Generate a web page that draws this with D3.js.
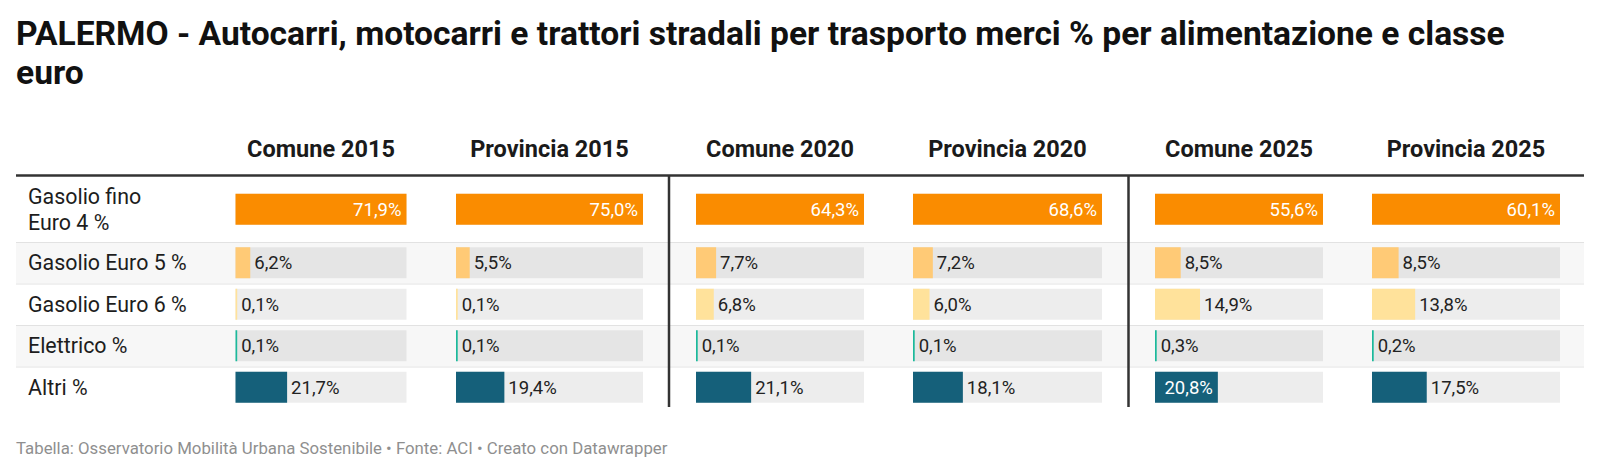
<!DOCTYPE html>
<html>
<head>
<meta charset="utf-8">
<script src="https://cdn.jsdelivr.net/npm/d3@7"></script>
<style>
  body { margin: 0; background: #fff; }
  svg text { font-family: Roboto, "Noto Sans", sans-serif; }
</style>
</head>
<body>
<div id="chart"></div>
<script>
// --- data ---
const titleLines = [
  "PALERMO - Autocarri, motocarri e trattori stradali per trasporto merci % per alimentazione e classe",
  "euro"
];
const footer = "Tabella: Osservatorio Mobilità Urbana Sostenibile • Fonte: ACI • Creato con Datawrapper";
const columns = ["Comune 2015", "Provincia 2015", "Comune 2020", "Provincia 2020", "Comune 2025", "Provincia 2025"];
const rowLabels = ["Gasolio fino\nEuro 4 %", "Gasolio Euro 5 %", "Gasolio Euro 6 %", "Elettrico %", "Altri %"];
const comune2015 = [71.9, 6.2, 0.1, 0.1, 21.7];
const provincia2015 = [75.0, 5.5, 0.1, 0.1, 19.4];
const comune2020 = [64.3, 7.7, 6.8, 0.1, 21.1];
const provincia2020 = [68.6, 7.2, 6.0, 0.1, 18.1];
const comune2025 = [55.6, 8.5, 14.9, 0.3, 20.8];
const provincia2025 = [60.1, 8.5, 13.8, 0.2, 17.5];
const rowColors = ["#fa8c00", "#ffca76", "#ffe29b", "#1bb99b", "#15607a"];

const series = [comune2015, provincia2015, comune2020, provincia2020, comune2025, provincia2025];

// --- layout ---
const width = 1600, height = 473;
const tableLeft = 16, tableRight = 1584;
const headerLineY = 175.5;
const rowHeights = [65.5, 41.5, 41.5, 41.5, 41.5];
const barH = 31;
// bar track extents for each column
const colRanges = [[235.5, 406.5], [456, 643], [696, 864], [913, 1102], [1155, 1323], [1372, 1560]];
const dividers = [669, 1128.5];

const loc = d3.formatLocale({decimal: ",", thousands: ".", grouping: [3], currency: ["", "€"]});
const fmt = v => loc.format(".1f")(v) + "%";

const svg = d3.select("#chart").append("svg")
  .attr("width", width)
  .attr("height", height);

// title
svg.append("text")
  .attr("x", 16)
  .attr("y", 45)
  .attr("font-size", 33.6)
  .attr("font-weight", 700)
  .attr("fill", "#111")
  .selectAll("tspan")
  .data(titleLines)
  .join("tspan")
    .attr("x", 16)
    .attr("dy", (d, i) => i ? 38.5 : 0)
    .text(d => d);

// rows
let acc = headerLineY + 1;
const rows = rowHeights.map(h => { const r = {y: acc, h}; acc += h; return r; });
const tableBottom = acc;

svg.selectAll(".rowbg")
  .data(rows)
  .join("rect")
    .attr("x", tableLeft)
    .attr("y", d => d.y)
    .attr("width", tableRight - tableLeft)
    .attr("height", d => d.h)
    .attr("fill", (d, i) => i % 2 ? "#f7f7f7" : "#fff");

svg.selectAll(".sep")
  .data(rows.slice(1))
  .join("line")
    .attr("x1", tableLeft)
    .attr("x2", tableRight)
    .attr("y1", d => d.y + 0.5)
    .attr("y2", d => d.y + 0.5)
    .attr("stroke", "#e2e2e2")
    .attr("stroke-width", 1);

// header
svg.selectAll(".head")
  .data(columns)
  .join("text")
    .attr("x", (d, i) => (colRanges[i][0] + colRanges[i][1]) / 2)
    .attr("y", 156.5)
    .attr("text-anchor", "middle")
    .attr("font-size", 23.5)
    .attr("font-weight", 700)
    .attr("fill", "#1a1a1a")
    .text(d => d);

svg.append("line")
  .attr("x1", tableLeft).attr("x2", tableRight)
  .attr("y1", headerLineY).attr("y2", headerLineY)
  .attr("stroke", "#333")
  .attr("stroke-width", 2.5);

// row labels
rowLabels.forEach((lab, i) => {
  const lines = lab.split("\n");
  const cy = rows[i].y + rows[i].h / 2;
  svg.append("text")
    .attr("font-size", 21.4)
    .attr("fill", "#1d1d1d")
    .selectAll("tspan")
    .data(lines)
    .join("tspan")
      .attr("x", 28)
      .attr("y", (d, j) => cy + 7.5 + (j - (lines.length - 1) / 2) * 26)
      .text(d => d);
});

// bars per column
series.forEach((vals, ci) => {
  const x = d3.scaleLinear()
    .domain([0, d3.max(vals)])
    .range(colRanges[ci]);
  const g = svg.append("g");

  vals.forEach((v, ri) => {
    const y0 = rows[ri].y + rows[ri].h / 2 - barH / 2;
    const x0 = x(0);
    const bw = Math.max(1.7, x(v) - x0);

    g.append("rect")
      .attr("x", x0).attr("y", y0)
      .attr("width", x.range()[1] - x0).attr("height", barH)
      .attr("fill", "rgba(0,0,0,0.07)");

    g.append("rect")
      .attr("x", x0).attr("y", y0)
      .attr("width", bw).attr("height", barH)
      .attr("fill", rowColors[ri]);

    const t = g.append("text")
      .attr("y", y0 + barH / 2 + 6.6)
      .attr("font-size", 18.5)
      .text(fmt(v));
    const tw = t.node().getComputedTextLength();
    if (bw > tw + 10) {
      t.attr("x", x0 + bw - 5).attr("text-anchor", "end").attr("fill", "#fff");
    } else {
      t.attr("x", x0 + bw + 4).attr("fill", "#222");
    }
  });
});

// vertical dividers
svg.selectAll(".div")
  .data(dividers)
  .join("line")
    .attr("x1", d => d).attr("x2", d => d)
    .attr("y1", headerLineY)
    .attr("y2", tableBottom - 1)
    .attr("stroke", "#333")
    .attr("stroke-width", 2.5);

// footer
svg.append("text")
  .attr("x", 16)
  .attr("y", 453.5)
  .attr("font-size", 16.8)
  .attr("fill", "#8f8f8f")
  .text(footer);
</script>
</body>
</html>
